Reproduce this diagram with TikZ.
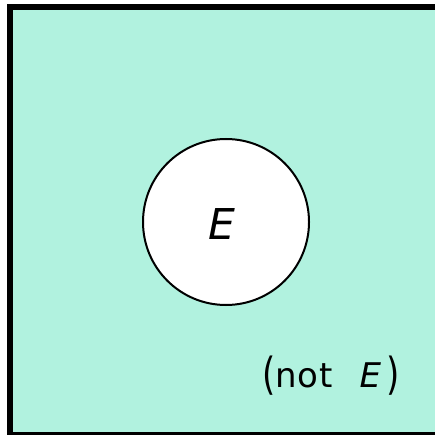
\documentclass[tikz,border=0pt]{standalone}
\usepackage{fontspec}
\setsansfont{DejaVu Sans}
\usepackage{tikz}
\usepackage{xcolor}
\definecolor{mint}{RGB}{177,242,223}
\newcommand{\tallparen}[1]{\raisebox{-2pt}{\scalebox{1}[1.3]{#1}}}
\tikzset{
  sample/.style={draw=black, fill=mint, line width=6pt},
  eventset/.style={circle, draw=black, fill=white, line width=2pt, minimum size=166pt, inner sep=0pt},
  setname/.style={font=\sffamily\fontsize{42.5}{50}\selectfont, inner sep=0pt},
  compname/.style={font=\sffamily\fontsize{34}{40}\selectfont, inner sep=0pt, anchor=base west},
}

\begin{document}
\begin{tikzpicture}[x=1pt, y=-1pt]
  \useasboundingbox (0,0) rectangle (434,435);
  \draw[sample] (10,7) rectangle (437.5,435);
  \node[eventset] (event) at (226,222) {};
  \node[setname] (eventname) at (222,224) {\textit{E}};
  \node[compname] (notevent) at (262,387)
    {\tallparen{(}no\hspace{1.5pt}t\hspace{27pt}\textit{E}\hspace{5pt}\tallparen{)}};
\end{tikzpicture}
\end{document}
